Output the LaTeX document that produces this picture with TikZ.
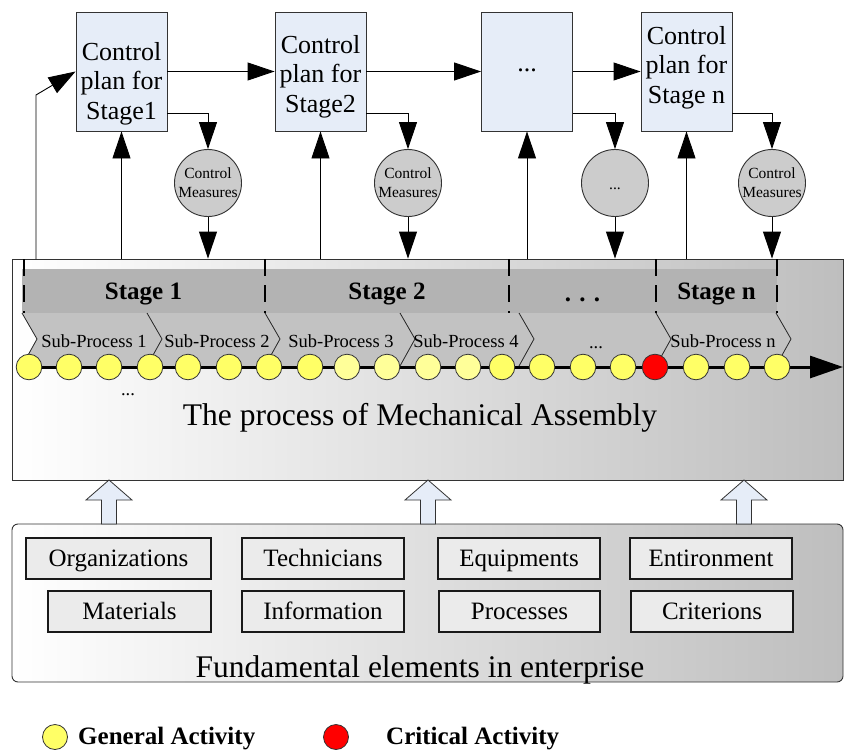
\documentclass[tikz,border=0pt]{standalone}
\usepackage{fontspec}
\setmainfont{Liberation Serif}
\usetikzlibrary{arrows.meta,calc}
\definecolor{planblue}{HTML}{E6EDF8}
\definecolor{cmgray}{HTML}{CCCCCC}
\definecolor{stagegray}{HTML}{B3B3B3}
\definecolor{subgray}{HTML}{C2C2C2}
\definecolor{bgright}{HTML}{BEBEBE}
\definecolor{yel}{HTML}{FFFF66}
\definecolor{paleyel}{HTML}{FFFF99}
\definecolor{elemgray}{HTML}{EBEBEB}
\definecolor{edge}{HTML}{333333}
\tikzset{
  plan/.style={draw=edge, line width=0.9pt, fill=planblue, minimum width=91pt, minimum height=119pt, inner sep=0pt},
  plantxt/.style={font=\fontsize{26}{29.5}\selectfont, align=center, inner sep=0pt, anchor=north},
  cmcirc/.style={circle, draw=edge, line width=0.9pt, fill=cmgray, minimum size=67pt, inner sep=0pt},
  cmtxt/.style={font=\fontsize{15.5}{19}\selectfont, align=center, inner sep=0pt},
  arr/.style={draw=black, line width=0.9pt, -{Triangle[length=27pt,width=18pt]}},
  mainbox/.style={draw=edge, line width=0.9pt, left color=white, right color=bgright, minimum width=831pt, minimum height=221pt, inner sep=0pt},
  basebox/.style={draw=edge, line width=0.9pt, rounded corners=6pt, left color=white, right color=bgright, minimum width=831pt, minimum height=158pt, inner sep=0pt},
  chev/.style={draw=black!85, line width=0.8pt},
  stagedash/.style={draw=black, line width=2.5pt, dash pattern=on 17pt off 9pt},
  stagetxt/.style={font=\fontsize{25}{28}\selectfont\bfseries, inner sep=0pt, anchor=base},
  subtxt/.style={font=\fontsize{18.5}{20}\selectfont, inner sep=0pt, anchor=base},
  procline/.style={draw=black, line width=3pt, -{Triangle[length=33pt,width=22pt]}},
  act/.style={circle, draw=edge, line width=0.8pt, minimum size=25.6pt, inner sep=0pt},
  bigtxt/.style={font=\fontsize{31.5}{34}\selectfont, inner sep=0pt, anchor=base},
  elem/.style={draw=black!90, line width=2pt, fill=elemgray, minimum height=41pt, inner sep=0pt, font=\fontsize{25}{28}\selectfont, text height=17pt, text depth=0pt},
  hollow/.style={draw=edge, line width=0.8pt, fill=planblue},
  legtxt/.style={font=\fontsize{25}{28}\selectfont\bfseries, inner sep=0pt, anchor=base west}
}
\begin{document}
\begin{tikzpicture}[x=1pt,y=-1pt]
\useasboundingbox (0,0) rectangle (845,749);
% ---- process box ----
\node[mainbox] (mb) at (427.5,369.5) {};
\fill[stagegray] (22,269) rectangle (777,313);
\fill[subgray] (22,313) -- (776,313) -- (791,339) -- (776,366) -- (22,366) -- (37,339) -- cycle;
\foreach \x in {22,147,265,400,519,656,776} \draw[chev] (\x,313) -- (\x+15,339) -- (\x,366);
\foreach \x in {24,265,509,656,777} \draw[stagedash] (\x,259) -- (\x,313);
\node[stagetxt] (s1) at (143.5,299) {Stage 1};
\node[stagetxt] (s2) at (387,299) {Stage 2};
\node[stagetxt] (s3) at (582.5,301) {. . .};
\node[stagetxt] (s4) at (716.5,299) {Stage n};
\node[subtxt] (sp1) at (94,347) {Sub-Process 1};
\node[subtxt] (sp2) at (217,347) {Sub-Process 2};
\node[subtxt] (sp3) at (341,347) {Sub-Process 3};
\node[subtxt] (sp4) at (466,347) {Sub-Process 4};
\node[subtxt] (sp5) at (596,348) {...};
\node[subtxt] (sp6) at (723,347) {Sub-Process n};
\coordinate (ps) at (29,367);
\coordinate (pe) at (843,367);
\draw[procline] (ps) -- (pe);
\foreach \x/\c [count=\i] in {29/yel,69/yel,109/yel,150/yel,188/yel,229/yel,269/yel,310/yel,347/paleyel,387/paleyel,428/paleyel,468/paleyel,502/yel,542/yel,583/yel,623/yel,655/red,696/yel,737/yel,777/yel}
  \node[act, fill=\c] (c\i) at (\x,367) {};
\node[subtxt] (dots) at (128,395) {...};
\node[bigtxt] (mbl) at (420,425) {The process of Mechanical Assembly};
% ---- control plans ----
\node[plan] (p1) at (121.5,71.5) {};
\node[plan] (p2) at (320.5,71.5) {};
\node[plan] (p3) at (527,71.5) {};
\node[plan] (p4) at (686.5,71.5) {};
\node[plantxt] (p1t) at (121.5,42) {Control\\plan for\\Stage1};
\node[plantxt] (p2t) at (320.5,35) {Control\\plan for\\Stage2};
\node[plantxt, anchor=base] (p3t) at (527,72) {...};
\node[plantxt] (p4t) at (686.5,26) {Control\\plan for\\Stage n};
\node[cmcirc] (cm1) at (208,183) {};
\node[cmcirc] (cm2) at (408,183) {};
\node[cmcirc] (cm3) at (615,183) {};
\node[cmcirc] (cm4) at (772,183) {};
\node[cmtxt] (cm1t) at (cm1) {Control\\Measures};
\node[cmtxt] (cm2t) at (cm2) {Control\\Measures};
\node[cmtxt, anchor=base] (cm3t) at (615,189) {...};
\node[cmtxt] (cm4t) at (cm4) {Control\\Measures};
% connectors
\coordinate (l0) at (36,259);
\coordinate (l1) at (36,95);
\draw[arr] (l0) -- (l1) -- (p1.west);
\draw[arr] (p1.east) -- (p2.west);
\draw[arr] (p2.east) -- (p3.west);
\draw[arr] (p3.east) -- (p4.west);
\foreach \p/\c in {p1/cm1,p2/cm2,p3/cm3,p4/cm4}{
  \draw[arr] (\p.south east) ++(0,-18) -| (\c.north);
  \draw[arr] (\c.south) -- (\c.south |- mb.north);
  \draw[arr] (\p.south |- mb.north) -- (\p.south);
}
% ---- fundamental elements ----
\node[basebox] (bb) at (427.5,603) {};
\foreach \x in {109,428,744}
  \draw[hollow] (\x,480) -- (\x+23,500) -- (\x+7.5,500) -- (\x+7.5,524) -- (\x-7.5,524) -- (\x-7.5,500) -- (\x-23,500) -- cycle;
\node[elem, minimum width=185pt] (e1) at (118.5,558) {Organizations};
\node[elem, minimum width=162pt] (e2) at (323,558) {Technicians};
\node[elem, minimum width=162pt] (e3) at (519,558) {Equipments};
\node[elem, minimum width=162pt] (e4) at (711,558) {Entironment};
\node[elem, minimum width=163pt] (e5) at (129.5,611) {Materials};
\node[elem, minimum width=162pt] (e6) at (323,611) {Information};
\node[elem, minimum width=161pt] (e7) at (519.5,611) {Processes};
\node[elem, minimum width=162pt] (e8) at (712,611) {Criterions};
\node[bigtxt] (bbl) at (420,677) {Fundamental elements in enterprise};
% ---- legend ----
\node[act, fill=yel, minimum size=25pt] (lg1) at (55,737) {};
\node[legtxt] (lg1t) at (78,744) {General Activity};
\node[act, fill=red, minimum size=25pt] (lg2) at (336,737) {};
\node[legtxt] (lg2t) at (386,744) {Critical Activity};
\end{tikzpicture}
\end{document}
